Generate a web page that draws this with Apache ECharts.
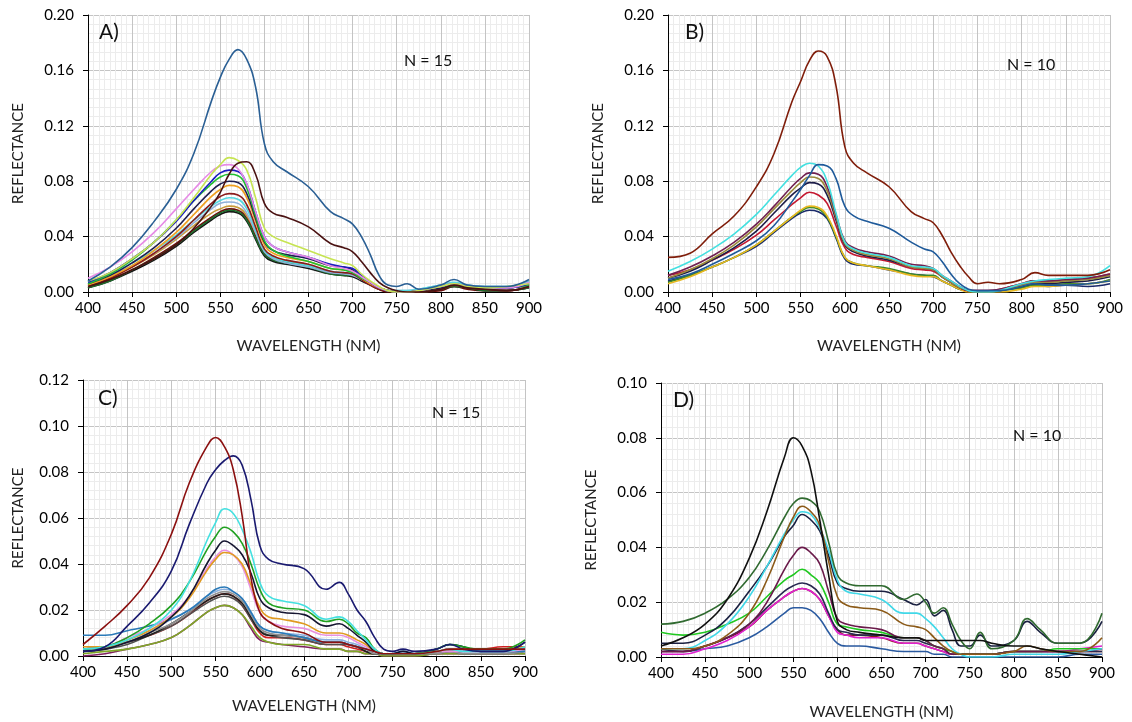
<!DOCTYPE html>
<html><head><meta charset="utf-8">
<script src="https://cdn.jsdelivr.net/npm/echarts@6/dist/echarts.min.js"></script>
<style>html,body{margin:0;padding:0;background:#fff}#c{width:1132px;height:722px}</style>
</head><body><div id="c"></div>
<script>
// Wavelength sample positions (nm)
var wavelengths = [400,425,450,475,500,520,540,550,560,570,580,590,600,610,625,650,675,690,700,710,720,730,740,750,762,775,800,815,830,850,875,900];
var xTicks = [400,450,500,550,600,650,700,750,800,850,900];

// Panel A (N = 15)
var A1  = [.008,.018,.032,.051,.074,.100,.138,.155,.168,.175,.168,.148,.107,.094,.087,.076,.058,.053,.049,.040,.027,.012,.005,.004,.006,.002,.005,.009,.005,.004,.004,.009];
var A2  = [.004,.009,.016,.024,.034,.046,.062,.072,.085,.093,.094,.085,.064,.057,.054,.047,.035,.032,.029,.022,.014,.007,.003,.001,.000,.000,.002,.005,.003,.002,.001,.004];
var A3  = [.008,.014,.024,.036,.052,.068,.085,.092,.097,.095,.088,.068,.046,.040,.036,.030,.024,.021,.019,.013,.008,.004,.001,.000,.000,.001,.004,.006,.004,.003,.004,.006];
var A4  = [.010,.018,.029,.043,.060,.074,.087,.091,.092,.089,.078,.058,.040,.033,.029,.025,.019,.017,.015,.011,.007,.003,.001,.000,.000,.001,.004,.006,.004,.003,.003,.007];
var A5  = [.007,.014,.024,.036,.051,.066,.080,.086,.088,.087,.078,.058,.040,.033,.029,.025,.020,.018,.017,.012,.007,.003,.001,.000,.000,.001,.004,.006,.004,.003,.003,.006];
var A6  = [.006,.013,.023,.036,.052,.066,.078,.083,.085,.084,.075,.055,.037,.030,.026,.022,.017,.016,.014,.010,.007,.003,.001,.000,.000,.001,.004,.005,.004,.003,.003,.005];
var A7  = [.006,.012,.021,.032,.046,.060,.073,.078,.080,.079,.071,.053,.036,.030,.027,.024,.019,.018,.016,.011,.007,.003,.001,.000,.000,.001,.003,.005,.004,.003,.003,.005];
var A8  = [.005,.011,.019,.030,.043,.056,.069,.074,.077,.076,.068,.051,.034,.028,.025,.022,.017,.016,.015,.010,.006,.003,.001,.000,.000,.001,.003,.005,.004,.003,.003,.005];
var A9  = [.004,.010,.018,.028,.040,.052,.064,.069,.071,.070,.063,.047,.031,.026,.023,.020,.015,.014,.013,.009,.005,.002,.001,.000,.000,.000,.002,.005,.003,.002,.001,.004];
var A10 = [.007,.013,.021,.030,.041,.052,.062,.066,.068,.067,.060,.045,.030,.025,.022,.019,.015,.014,.013,.009,.006,.003,.001,.001,.001,.002,.005,.007,.005,.004,.004,.008];
var A11 = [.006,.012,.019,.028,.039,.050,.060,.064,.065,.064,.057,.043,.029,.024,.021,.018,.014,.013,.012,.009,.006,.003,.001,.001,.001,.002,.005,.006,.005,.004,.004,.007];
var A12 = [.003,.008,.016,.024,.034,.044,.053,.057,.059,.058,.052,.039,.027,.023,.021,.018,.013,.012,.012,.009,.006,.003,.001,.000,.000,.000,.002,.004,.003,.001,.001,.003];
var A13 = [.003,.008,.015,.023,.033,.043,.052,.056,.058,.057,.051,.038,.026,.022,.020,.017,.013,.012,.011,.008,.005,.002,.001,.000,.000,.000,.002,.004,.003,.001,.001,.003];
var A14 = [.003,.009,.016,.025,.035,.045,.054,.058,.060,.059,.053,.040,.028,.023,.021,.018,.014,.013,.012,.009,.006,.002,.000,.000,.000,.000,.001,.004,.002,.001,.001,.004];
var A15 = [.005,.010,.018,.027,.038,.048,.057,.060,.062,.061,.055,.041,.028,.024,.022,.019,.014,.013,.012,.009,.006,.003,.001,.000,.000,.001,.003,.005,.004,.003,.003,.005];

// Panel B (N = 10)
var B1  = [.025,.028,.042,.055,.076,.100,.137,.152,.167,.174,.170,.149,.105,.093,.086,.076,.058,.053,.050,.041,.029,.019,.011,.006,.007,.006,.009,.014,.012,.012,.012,.016];
var B2  = [.009,.013,.020,.028,.037,.048,.065,.074,.084,.092,.091,.082,.062,.055,.051,.046,.036,.031,.029,.022,.013,.006,.002,.001,.001,.001,.004,.006,.005,.005,.006,.008];
var B3  = [.015,.022,.031,.042,.056,.070,.084,.090,.093,.091,.080,.057,.036,.031,.028,.025,.019,.018,.017,.012,.008,.004,.001,.000,.000,.001,.006,.008,.009,.010,.011,.019];
var B4  = [.012,.018,.026,.036,.049,.062,.076,.082,.086,.085,.076,.056,.037,.032,.029,.026,.020,.019,.017,.012,.008,.004,.001,.001,.001,.002,.006,.008,.008,.009,.010,.013];
var B5  = [.010,.016,.024,.034,.047,.060,.073,.079,.083,.082,.073,.054,.035,.030,.027,.024,.018,.017,.016,.011,.007,.003,.001,.000,.000,.001,.005,.007,.007,.008,.009,.012];
var B6  = [.010,.015,.023,.032,.044,.057,.070,.075,.079,.078,.070,.052,.034,.029,.026,.023,.018,.017,.016,.011,.007,.003,.001,.000,.000,.001,.004,.006,.006,.007,.008,.011];
var B7  = [.012,.016,.023,.031,.041,.052,.063,.068,.072,.070,.064,.048,.032,.027,.025,.022,.017,.016,.015,.011,.007,.003,.001,.001,.001,.002,.006,.008,.008,.009,.010,.013];
var B8  = [.006,.011,.018,.025,.034,.044,.054,.059,.062,.061,.055,.041,.025,.021,.019,.016,.012,.011,.011,.008,.005,.002,.000,.000,.000,.000,.002,.004,.004,.005,.006,.008];
var B9  = [.007,.012,.018,.025,.034,.044,.054,.058,.061,.060,.054,.040,.025,.021,.019,.017,.013,.012,.012,.008,.005,.002,.001,.000,.000,.001,.003,.005,.005,.006,.006,.009];
var B10 = [.008,.012,.018,.025,.033,.043,.053,.057,.059,.058,.053,.039,.024,.020,.019,.016,.013,.012,.011,.008,.005,.002,.001,.000,.000,.001,.004,.005,.004,.005,.004,.006];

// Panel C (N = 15)
var C1  = [.005,.013,.022,.034,.053,.075,.091,.095,.091,.081,.061,.034,.019,.015,.012,.010,.006,.006,.005,.004,.003,.002,.001,.001,.001,.001,.002,.003,.003,.003,.003,.003];
var C2  = [.002,.004,.013,.023,.037,.057,.075,.081,.085,.087,.083,.068,.048,.042,.040,.038,.029,.032,.027,.020,.015,.008,.003,.002,.003,.002,.003,.005,.003,.002,.002,.006];
var C3  = [.003,.004,.007,.012,.020,.032,.050,.058,.064,.062,.055,.045,.032,.026,.024,.022,.016,.017,.015,.011,.007,.003,.001,.001,.001,.001,.002,.003,.002,.002,.002,.004];
var C4  = [.003,.004,.008,.014,.022,.032,.046,.052,.056,.054,.049,.040,.029,.023,.021,.020,.015,.016,.014,.010,.008,.003,.001,.001,.001,.001,.003,.005,.004,.003,.003,.007];
var C5  = [.002,.003,.006,.010,.017,.026,.040,.046,.050,.048,.044,.036,.025,.021,.019,.018,.013,.014,.012,.009,.006,.002,.001,.001,.002,.001,.003,.005,.004,.002,.002,.006];
var C6  = [.004,.004,.007,.011,.017,.025,.037,.042,.045,.044,.040,.031,.021,.017,.016,.014,.010,.010,.009,.007,.005,.002,.001,.001,.001,.001,.002,.003,.003,.003,.003,.004];
var C7  = [.003,.004,.008,.012,.018,.026,.038,.043,.046,.044,.039,.029,.019,.015,.013,.012,.009,.009,.008,.006,.004,.002,.001,.001,.001,.001,.002,.002,.002,.002,.002,.003];
var C8  = [.009,.009,.011,.013,.016,.020,.026,.029,.030,.028,.025,.019,.013,.011,.010,.008,.006,.006,.005,.004,.003,.002,.001,.001,.002,.001,.003,.005,.004,.002,.002,.002];
var C9  = [.003,.004,.007,.011,.016,.020,.026,.028,.029,.028,.025,.019,.013,.011,.010,.009,.007,.007,.006,.005,.003,.002,.001,.001,.001,.001,.002,.003,.002,.002,.002,.003];
var C10 = [.003,.004,.006,.010,.014,.019,.025,.027,.028,.027,.024,.018,.012,.010,.009,.008,.006,.006,.005,.004,.003,.001,.001,.001,.001,.001,.001,.002,.001,.001,.001,.002];
var C11 = [.003,.004,.006,.009,.014,.019,.024,.026,.027,.026,.023,.017,.011,.009,.009,.008,.006,.006,.005,.004,.002,.001,.001,.001,.001,.001,.002,.002,.002,.002,.002,.003];
var C12 = [.002,.003,.005,.009,.013,.018,.023,.025,.026,.025,.022,.016,.011,.009,.008,.007,.005,.005,.005,.004,.002,.001,.001,.001,.001,.001,.001,.002,.001,.001,.001,.002];
var C13 = [.001,.002,.003,.005,.008,.013,.019,.021,.022,.021,.018,.013,.008,.006,.005,.005,.003,.003,.002,.002,.001,.001,.000,.000,.000,.000,.001,.001,.001,.001,.001,.001];
var C14 = [.000,.001,.003,.005,.008,.013,.019,.021,.022,.021,.018,.012,.007,.006,.005,.004,.003,.003,.002,.002,.001,.001,.000,.000,.000,.000,.001,.001,.001,.001,.001,.001];
var C15 = [.003,.004,.006,.009,.013,.018,.024,.026,.027,.026,.022,.016,.010,.008,.008,.007,.005,.005,.004,.003,.002,.001,.001,.001,.001,.001,.002,.002,.003,.003,.004,.004];

// Panel D (N = 10)
var D1  = [.004,.007,.012,.021,.036,.053,.073,.080,.077,.068,.050,.030,.013,.010,.009,.008,.007,.007,.006,.006,.006,.006,.006,.006,.006,.005,.004,.004,.003,.002,.001,.000];
var D2  = [.012,.013,.016,.021,.029,.039,.051,.056,.058,.057,.053,.042,.030,.027,.026,.026,.021,.023,.020,.016,.018,.012,.006,.003,.009,.003,.006,.014,.010,.005,.005,.016];
var D3  = [.003,.003,.004,.008,.016,.028,.044,.051,.055,.053,.048,.035,.022,.019,.018,.017,.012,.011,.010,.007,.004,.002,.001,.001,.001,.001,.002,.004,.003,.002,.002,.007];
var D4  = [.003,.003,.006,.012,.022,.033,.045,.050,.053,.052,.047,.039,.028,.024,.023,.021,.016,.016,.014,.011,.007,.003,.001,.000,.000,.000,.001,.001,.001,.001,.002,.003];
var D5  = [.005,.005,.008,.014,.024,.033,.044,.048,.052,.050,.046,.037,.027,.025,.024,.024,.021,.019,.021,.015,.017,.010,.004,.004,.008,.004,.006,.013,.009,.005,.005,.013];
var D6  = [.002,.002,.004,.007,.012,.020,.032,.037,.040,.038,.034,.024,.014,.012,.011,.010,.007,.007,.006,.004,.003,.001,.001,.001,.001,.001,.002,.002,.002,.002,.002,.003];
var D7  = [.009,.008,.009,.012,.016,.022,.028,.030,.032,.030,.027,.020,.012,.011,.010,.009,.007,.007,.006,.004,.003,.002,.001,.001,.001,.001,.002,.002,.002,.003,.003,.003];
var D8  = [.003,.002,.004,.007,.012,.018,.024,.026,.027,.026,.023,.016,.010,.009,.008,.008,.006,.006,.005,.004,.003,.001,.001,.001,.001,.001,.002,.002,.002,.002,.002,.002];
var D9  = [.001,.001,.003,.006,.011,.017,.022,.024,.025,.024,.021,.015,.009,.008,.007,.007,.005,.005,.004,.003,.002,.001,.001,.001,.001,.001,.002,.002,.002,.002,.003,.004];
var D10 = [.002,.002,.004,.007,.011,.017,.022,.024,.025,.024,.021,.015,.010,.008,.008,.007,.005,.005,.004,.003,.002,.001,.001,.001,.001,.001,.002,.002,.002,.002,.002,.002];
var D11 = [.002,.002,.003,.004,.007,.011,.016,.018,.018,.017,.014,.009,.005,.004,.004,.003,.002,.002,.002,.001,.001,.000,.000,.000,.000,.000,.000,.000,.000,.000,.001,.001];

var panelA = [[A15,'#c89a3a'],[A14,'#6e0c0c'],[A13,'#141414'],[A12,'#1d6b2b'],[A11,'#8fb0da'],[A10,'#55d8e0'],[A9,'#8a1c1c'],[A8,'#f0a020'],[A7,'#1f1f4f'],[A6,'#22c032'],[A5,'#1c1cc0'],[A4,'#e68ae6'],[A3,'#c6e452'],[A2,'#4a1212'],[A1,'#2a5f94']];
var panelB = [[B10,'#1a2a6a'],[B9,'#3a8a2a'],[B8,'#e8b820'],[B7,'#c41830'],[B6,'#1c1c48'],[B5,'#9a8a3a'],[B4,'#702050'],[B3,'#44e0e0'],[B2,'#1f5a9a'],[B1,'#7f1d0a']];
var panelC = [[C15,'#d02020'],[C14,'#802060'],[C13,'#80a828'],[C12,'#505050'],[C11,'#202020'],[C10,'#909090'],[C9,'#8ab0e0'],[C8,'#2a7ab8'],[C7,'#e890e0'],[C6,'#e09a20'],[C5,'#151530'],[C4,'#20a020'],[C3,'#44e0e0'],[C2,'#1a1a70'],[C1,'#8b1010']];
var panelD = [[D11,'#2a5aa0'],[D10,'#8a1818'],[D9,'#e020d0'],[D8,'#282850'],[D7,'#20c820'],[D6,'#6a1a4a'],[D5,'#1a2040'],[D4,'#40d8e8'],[D3,'#8b5a18'],[D2,'#306a30'],[D1,'#101010']];

var FONT = 'Lato';
var grids = [
  {left:88, top:15, width:441, height:277},
  {left:668, top:15, width:442, height:277},
  {left:83, top:380, width:442, height:276},
  {left:661, top:383, width:441, height:274}
];
var yMax = [0.20,0.20,0.12,0.10], yInt = [0.04,0.04,0.02,0.02], yMinorN = [6,6,5,5];
var yGap = [62,62,57,62], xGap = [46,46,42,47];

function xAxis(i){
  return {gridIndex:i, type:'value', min:400, max:900, interval:50,
    name:'WAVELENGTH (NM)', nameLocation:'middle', nameGap:xGap[i],
    nameTextStyle:{fontFamily:FONT, fontSize:15.5, color:'#222'},
    axisLine:{show:true, onZero:false, lineStyle:{color:'#000', width:1}},
    axisTick:{show:true, length:5, lineStyle:{color:'#000'}},
    axisLabel:{fontFamily:FONT, fontSize:15, color:'#000', margin:9},
    splitLine:{show:true, lineStyle:{color:'#c4c4c4', width:1}},
    minorTick:{show:false, splitNumber:8},
    minorSplitLine:{show:true, lineStyle:{color:'#ececec', width:1}}};
}
function yAxis(i){
  return {gridIndex:i, type:'value', min:0, max:yMax[i], interval:yInt[i],
    name:'REFLECTANCE', nameLocation:'middle', nameGap:yGap[i], nameRotate:90,
    nameTextStyle:{fontFamily:FONT, fontSize:15, color:'#222'},
    axisLine:{show:true, lineStyle:{color:'#000', width:1}},
    axisTick:{show:true, length:5, lineStyle:{color:'#000'}},
    axisLabel:{fontFamily:FONT, fontSize:15, color:'#000', margin:14, formatter:function(v){return v.toFixed(2);}},
    splitLine:{show:true, lineStyle:{color:'#c4c4c4', width:1}},
    minorTick:{show:false, splitNumber:yMinorN[i]},
    minorSplitLine:{show:true, lineStyle:{color:'#ececec', width:1}}};
}
var series = [];
[panelA,panelB,panelC,panelD].forEach(function(p, gi){
  p.forEach(function(s){
    series.push({type:'line', xAxisIndex:gi, yAxisIndex:gi, showSymbol:false, smooth:0.45,
      data: wavelengths.map(function(w,k){return [w, s[0][k]];}),
      lineStyle:{color:s[1], width:1.6}, itemStyle:{color:s[1]}, silent:true, z:2});
  });
});
function txt(x,y,t,size){return {type:'text', left:x, top:y, style:{text:t, fontFamily:FONT, fontSize:size, fill:'#111'}, z:10};}
var chart = echarts.init(document.getElementById('c'), null, {renderer:'canvas'});
chart.setOption({
  animation:false,
  backgroundColor:'#fff',
  grid: grids,
  xAxis: [0,1,2,3].map(xAxis),
  yAxis: [0,1,2,3].map(yAxis),
  series: series,
  graphic: [
    txt(99,22,'A)',21), txt(404,53,'N = 15',16),
    txt(685,22,'B)',21), txt(1007,57,'N = 10',16),
    txt(98,388,'C)',21), txt(432,405,'N = 15',16),
    txt(673,390,'D)',21), txt(1013,428,'N = 10',16)
  ]
});
</script></body></html>
